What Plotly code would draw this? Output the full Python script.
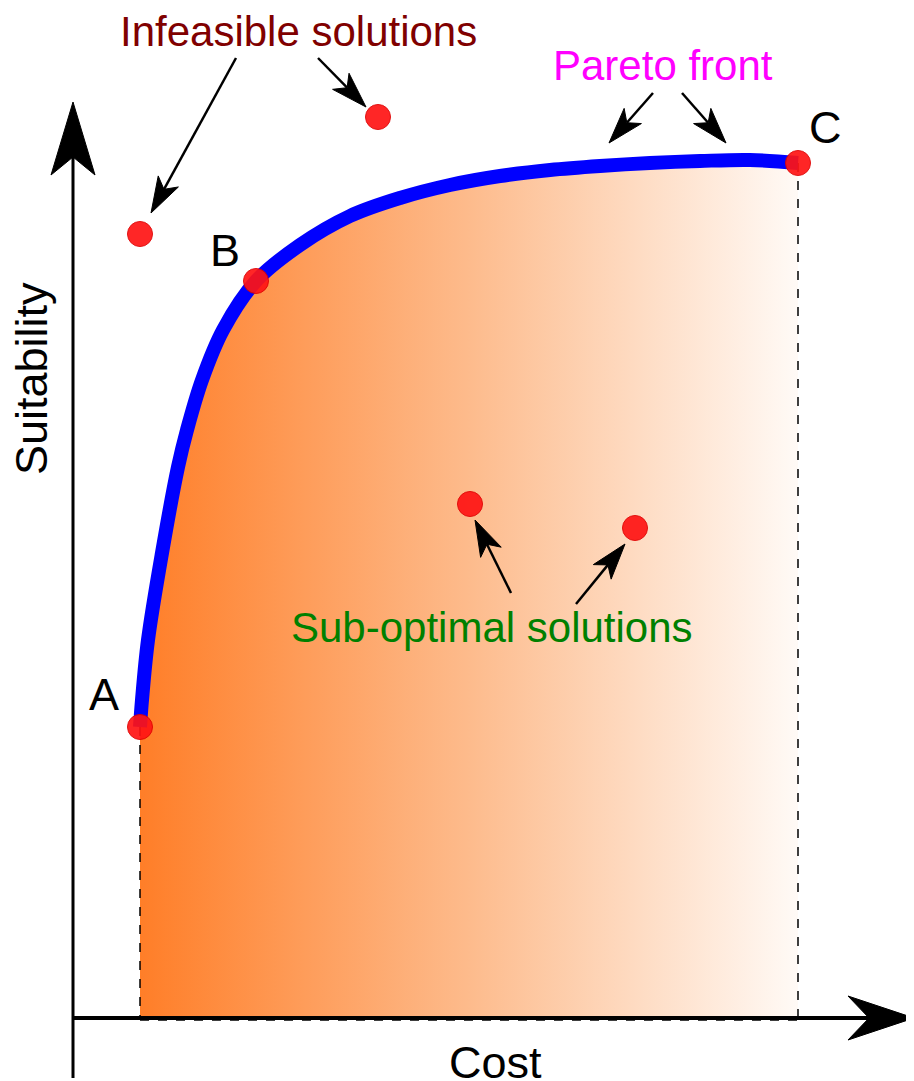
import plotly.graph_objects as go

# ---------------- data (cost / suitability units) ----------------
front_cost = [67, 69, 75, 89, 105, 114, 129, 150, 183, 227, 277, 327, 377, 427, 477, 527, 577, 627, 677, 725]
front_suit = [291, 318, 378, 465, 551, 588, 638, 688, 737, 773, 802, 820, 833, 842, 848, 852, 855, 857, 858, 855]

pareto_names = ["A", "B", "C"]
pareto_cost = [67, 183, 725]
pareto_suit = [291, 737, 855]

infeasible_cost = [67, 305]
infeasible_suit = [784, 901]

suboptimal_cost = [397, 562]
suboptimal_suit = [514, 490]

# annotation arrows: (start cost, start suit) -> (tip cost, tip suit)
arrow_start_cost = [163, 245, 580, 609, 438, 503]
arrow_start_suit = [960, 960, 925, 925, 425, 414]
arrow_tip_cost = [78, 293, 536, 653, 402, 552]
arrow_tip_suit = [805, 911, 875, 875, 498, 474]

axis_max_cost = 841
axis_max_suit = 916
axis_min_suit = -60

# ---------------- helpers ----------------
def arrow_head(x0, y0, x1, y1, length, half_w, notch):
    dx, dy = x1 - x0, y1 - y0
    n = (dx * dx + dy * dy) ** 0.5
    ux, uy = dx / n, dy / n
    px, py = -uy, ux
    bx, by = x1 - ux * length, y1 - uy * length
    nx, ny = x1 - ux * notch, y1 - uy * notch
    xs = [x1, bx + px * half_w, nx, bx - px * half_w, x1]
    ys = [y1, by + py * half_w, ny, by - py * half_w, y1]
    return xs, ys, (nx, ny)

fig = go.Figure()

# gradient-filled feasible region
fig.add_trace(go.Scatter(
    x=front_cost, y=front_suit, mode="lines",
    line=dict(width=0, shape="spline", smoothing=1.0),
    fill="tozeroy",
    fillgradient=dict(type="horizontal",
                      colorscale=[[0, "rgb(255,126,40)"], [0.5, "rgb(253,187,140)"], [1, "rgb(255,250,246)"]]),
    hoverinfo="skip", showlegend=False))

# dashed guide lines
fig.add_trace(go.Scatter(
    x=[pareto_cost[0], pareto_cost[0], None, pareto_cost[2], pareto_cost[2], None, pareto_cost[0], pareto_cost[2]],
    y=[pareto_suit[0], 0, None, pareto_suit[2], 0, None, -2, -2],
    mode="lines", line=dict(color="black", width=1.5, dash="dash"),
    hoverinfo="skip", showlegend=False))

# axes (lines + arrowheads)
xh_x, xh_y, xn = arrow_head(0, 0, axis_max_cost, 0, 66, 22, 45)
yh_x, yh_y, yn = arrow_head(0, 0, 0, axis_max_suit, 73, 22, 55)
fig.add_trace(go.Scatter(x=[0, xn[0]], y=[0, 0], mode="lines",
                         line=dict(color="black", width=4), hoverinfo="skip", showlegend=False))
fig.add_trace(go.Scatter(x=[0, 0], y=[axis_min_suit, yn[1]], mode="lines",
                         line=dict(color="black", width=3), hoverinfo="skip", showlegend=False))
fig.add_trace(go.Scatter(x=xh_x + [None] + yh_x, y=xh_y + [None] + yh_y, mode="lines",
                         fill="toself", fillcolor="black", line=dict(color="black", width=1),
                         hoverinfo="skip", showlegend=False))

# Pareto front line
fig.add_trace(go.Scatter(
    x=front_cost, y=front_suit, mode="lines",
    line=dict(color="#0000FF", width=14, shape="spline", smoothing=1.0),
    hoverinfo="skip", showlegend=False))

# small annotation arrows
sx, sy, hx, hy = [], [], [], []
for x0, y0, x1, y1 in zip(arrow_start_cost, arrow_start_suit, arrow_tip_cost, arrow_tip_suit):
    ax_, ay_, notch = arrow_head(x0, y0, x1, y1, 36, 11.5, 27)
    sx += [x0, notch[0], None]
    sy += [y0, notch[1], None]
    hx += ax_ + [None]
    hy += ay_ + [None]
fig.add_trace(go.Scatter(x=sx, y=sy, mode="lines", line=dict(color="black", width=2.5),
                         hoverinfo="skip", showlegend=False))
fig.add_trace(go.Scatter(x=hx, y=hy, mode="lines", fill="toself", fillcolor="black",
                         line=dict(color="black", width=1), hoverinfo="skip", showlegend=False))

# solution points
marker = dict(size=25, color="#FF1414", opacity=0.92, line=dict(color="#E00000", width=1))
for xs, ys in [(pareto_cost, pareto_suit), (infeasible_cost, infeasible_suit), (suboptimal_cost, suboptimal_suit)]:
    fig.add_trace(go.Scatter(x=xs, y=ys, mode="markers", marker=marker,
                             hoverinfo="skip", showlegend=False))

font = "Liberation Sans, Arial, sans-serif"
texts = [
    ("Infeasible solutions", 225, 987, 42, "#800000", 0),
    ("Pareto front", 590, 953, 42, "#FF00FF", 0),
    ("Sub-optimal solutions", 419, 391, 42, "#008000", 0),
    ("Suitability", -42, 639, 45, "black", -90),
    ("Cost", 422, -44, 45, "black", 0),
]
label_offsets = [(-36, 33), (-31, 31), (27, 36)]
for t, x, y, s, c, ang in texts:
    fig.add_annotation(x=x, y=y, text=t, showarrow=False, textangle=ang,
                       font=dict(family=font, size=s, color=c), xanchor="center", yanchor="middle")
for name, x, y, (ox, oy) in zip(pareto_names, pareto_cost, pareto_suit, label_offsets):
    fig.add_annotation(x=x + ox, y=y + oy, text=name, showarrow=False,
                       font=dict(family=font, size=45, color="black"), xanchor="center", yanchor="middle")

# the page body adds an 8px margin; size the figure to fill the rest of the window
fig.update_layout(
    width=906, height=1073, margin=dict(l=0, r=0, t=0, b=0),
    paper_bgcolor="white", plot_bgcolor="white", showlegend=False,
    xaxis=dict(range=[-65, 841], visible=False, fixedrange=True),
    yaxis=dict(range=[-63, 1010], visible=False, fixedrange=True),
)
fig.write_html("out.html")
